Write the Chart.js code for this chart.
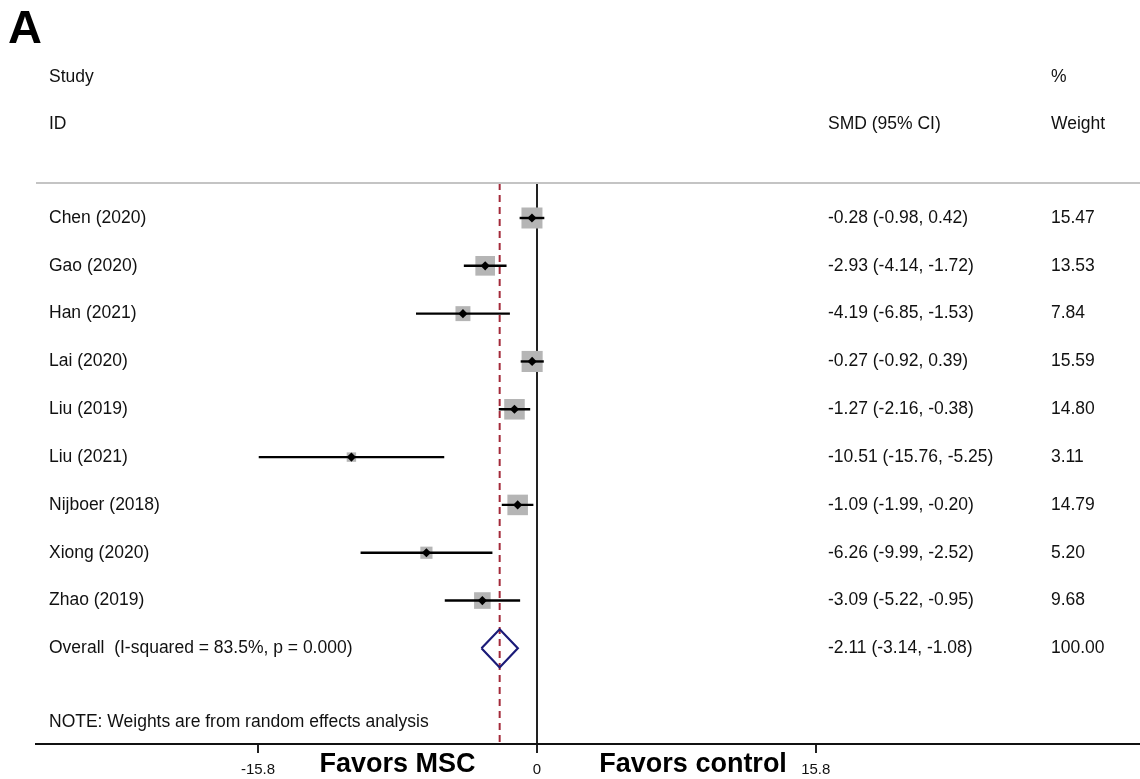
<!DOCTYPE html>
<html>
<head>
<meta charset="utf-8">
<script src="https://cdn.jsdelivr.net/npm/chart.js@4"></script>
<style>
  html, body { margin: 0; padding: 0; background: #fff; overflow: hidden; }
  canvas { display: block; }
</style>
</head>
<body>
<canvas id="forest" width="1140" height="779"></canvas>
<script>
// study data
const studies = ['Chen (2020)', 'Gao (2020)', 'Han (2021)', 'Lai (2020)', 'Liu (2019)',
                 'Liu (2021)', 'Nijboer (2018)', 'Xiong (2020)', 'Zhao (2019)'];
const smd   = [-0.28, -2.93, -4.19, -0.27, -1.27, -10.51, -1.09, -6.26, -3.09];
const lower = [-0.98, -4.14, -6.85, -0.92, -2.16, -15.76, -1.99, -9.99, -5.22];
const upper = [ 0.42, -1.72, -1.53,  0.39, -0.38,  -5.25, -0.20, -2.52, -0.95];
const weights = [15.47, 13.53, 7.84, 15.59, 14.80, 3.11, 14.79, 5.20, 9.68];

const overallLabel = 'Overall  (I-squared = 83.5%, p = 0.000)';
const overall = { est: -2.11, lo: -3.14, hi: -1.08, weight: 100.00 };

const xTicks = [-15.8, 0, 15.8];
const noteText = 'NOTE: Weights are from random effects analysis';

const FONT = "'Liberation Sans', Arial, sans-serif";
const Y_MIN = 0.268, Y_MAX = 12.0;

const rows = studies.map((s, i) => i + 1);
const overallRow = studies.length + 1;

function fmt(v) { return v.toFixed(2); }

// CI line per study
const ciSets = studies.map((s, i) => ({
    type: 'line',
    data: [{ x: lower[i], y: rows[i] }, { x: upper[i], y: rows[i] }],
    borderColor: '#000',
    borderWidth: 2.4,
    pointRadius: 0,
    fill: false,
    order: 4
}));

const datasets = [
    {
        type: 'scatter',
        data: smd.map((v, i) => ({ x: v, y: rows[i] })),
        pointStyle: 'rectRot',
        pointRadius: 4.6,
        backgroundColor: '#000',
        borderWidth: 0,
        order: 1
    },
    {
        type: 'line',
        data: [
            { x: overall.lo, y: overallRow },
            { x: overall.est, y: overallRow - 0.4 },
            { x: overall.hi, y: overallRow },
            { x: overall.est, y: overallRow + 0.4 },
            { x: overall.lo, y: overallRow }
        ],
        borderColor: '#1b1b78',
        borderWidth: 2.2,
        pointRadius: 0,
        fill: false,
        tension: 0,
        order: 2
    },
    {
        type: 'line',
        data: [{ x: overall.est, y: Y_MIN }, { x: overall.est, y: Y_MAX }],
        borderColor: '#a32a3a',
        borderWidth: 2,
        borderDash: [7, 5],
        pointRadius: 0,
        fill: false,
        order: 3
    },
    ...ciSets,
    {
        type: 'scatter',
        data: smd.map((v, i) => ({ x: v, y: rows[i] })),
        pointStyle: 'rect',
        // square area proportional to weight
        pointRadius: weights.map(w => 5.34 * Math.sqrt(w) / Math.SQRT2),
        backgroundColor: '#b5b5b5',
        borderWidth: 0,
        order: 5
    }
];

const textPlugin = {
    id: 'forestText',
    afterDraw(chart) {
        const ctx = chart.ctx;
        const y = chart.scales.y;
        const x = chart.scales.x;
        const area = chart.chartArea;
        ctx.save();

        // panel letter
        ctx.fillStyle = '#000';
        ctx.font = 'bold 47px ' + FONT;
        ctx.textBaseline = 'alphabetic';
        ctx.textAlign = 'left';
        ctx.fillText('A', 8, 43);

        // gray separator line
        ctx.strokeStyle = '#c4c4c4';
        ctx.lineWidth = 2;
        ctx.beginPath();
        ctx.moveTo(area.left, area.top);
        ctx.lineTo(area.right, area.top);
        ctx.stroke();

        ctx.font = '17.5px ' + FONT;
        ctx.textBaseline = 'middle';
        ctx.fillStyle = '#111';

        const hdr1 = y.getPixelForValue(-1.95);
        const hdr2 = y.getPixelForValue(-0.97);
        ctx.fillText('Study', 49, hdr1);
        ctx.fillText('ID', 49, hdr2);
        ctx.fillText('SMD (95% CI)', 828, hdr2);
        ctx.fillText('%', 1051, hdr1);
        ctx.fillText('Weight', 1051, hdr2);

        studies.forEach((s, i) => {
            const py = y.getPixelForValue(rows[i]);
            ctx.fillText(s, 49, py);
            ctx.fillText(fmt(smd[i]) + ' (' + fmt(lower[i]) + ', ' + fmt(upper[i]) + ')', 828, py);
            ctx.fillText(fmt(weights[i]), 1051, py);
        });

        const oy = y.getPixelForValue(overallRow);
        ctx.fillText(overallLabel, 49, oy);
        ctx.fillText(fmt(overall.est) + ' (' + fmt(overall.lo) + ', ' + fmt(overall.hi) + ')', 828, oy);
        ctx.fillText(fmt(overall.weight), 1051, oy);

        ctx.fillText(noteText, 49, y.getPixelForValue(11.55));

        // favour labels under the axis
        ctx.font = 'bold 27px ' + FONT;
        ctx.fillStyle = '#000';
        ctx.textAlign = 'center';
        ctx.fillText('Favors MSC', x.getPixelForValue(-7.9), 765);
        ctx.fillText('Favors control', x.getPixelForValue(8.85), 765);

        ctx.restore();
    }
};

new Chart(document.getElementById('forest'), {
    data: { datasets: datasets },
    options: {
        responsive: false,
        maintainAspectRatio: false,
        animation: false,
        devicePixelRatio: 1,
        layout: { autoPadding: false, padding: { top: 183, left: 36, right: 0, bottom: 0 } },
        plugins: {
            legend: { display: false },
            tooltip: { enabled: false }
        },
        scales: {
            x: {
                type: 'linear',
                position: 'bottom',
                min: -28.38,
                max: 34.17,
                afterBuildTicks: scale => {
                    scale.ticks = xTicks.map(v => ({ value: v }));
                },
                afterFit: scale => {
                    scale.height = 35;
                    scale.paddingLeft = 0;
                    scale.paddingRight = 0;
                },
                ticks: {
                    color: '#111',
                    font: { family: FONT, size: 15 },
                    padding: 8,
                    maxRotation: 0,
                    autoSkip: false,
                    callback: v => String(v)
                },
                grid: {
                    color: c => (c.tick && c.tick.value === 0) ? '#222' : 'rgba(0,0,0,0)',
                    lineWidth: 2,
                    tickColor: '#222',
                    tickLength: 9
                },
                border: { display: true, color: '#111', width: 2 }
            },
            y: {
                type: 'linear',
                display: false,
                reverse: true,
                min: Y_MIN,
                max: Y_MAX
            }
        }
    },
    plugins: [textPlugin]
});
</script>
</body>
</html>
